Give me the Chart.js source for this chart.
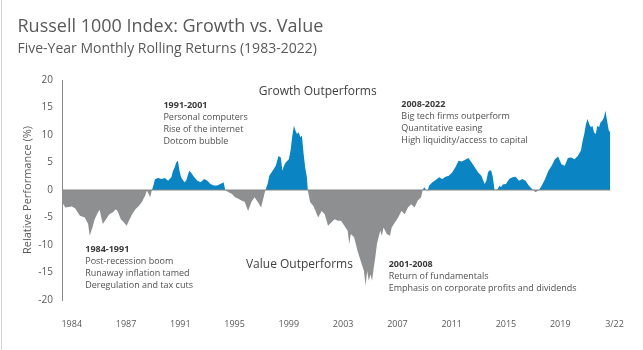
<!DOCTYPE html>
<html>
<head>
<meta charset="utf-8">
<script src="https://cdn.jsdelivr.net/npm/chart.js@4.4.1/dist/chart.umd.min.js"></script>
<style>
  html, body { margin: 0; padding: 0; background: #ffffff; }
  #wrap { position: relative; width: 643px; height: 350px; overflow: hidden; font-family: "Open Sans", sans-serif; }
  #c { position: absolute; left: 0; top: 0; }
  #edge { position: absolute; left: 1px; top: 0; width: 1px; height: 350px; background: #d6d6d6; }
  .t1 { position: absolute; left: 17.5px; top: 15.7px; font-size: 18px; line-height: 18px; color: #595959; white-space: nowrap; }
  .t2 { position: absolute; left: 17.5px; top: 40.5px; font-size: 14px; line-height: 14px; color: #595959; white-space: nowrap; }
</style>
</head>
<body>
<div id="wrap">
  <canvas id="c" width="643" height="350"></canvas>
  <div id="edge"></div>
  <div class="t1">Russell 1000 Index: Growth vs. Value</div>
  <div class="t2">Five-Year Monthly Rolling Returns (1983-2022)</div>
</div>
<script>
// ---- data (decimal year, relative performance %) ----
const dates = [
  1983.92,1984.15,1984.60,1984.83,1985.17,1985.51,1985.74,1985.85,1986.04,1986.20,
  1986.42,1986.54,1986.76,1986.99,1987.22,1987.45,1987.67,1987.79,1988.02,1988.24,
  1988.43,1988.58,1988.81,1989.04,1989.27,1989.49,1989.72,1989.84,1989.95,1990.06,
  1990.18,1990.29,1990.40,1990.63,1990.86,1991.09,1991.31,1991.54,1991.66,1991.77,
  1991.88,1992.00,1992.11,1992.22,1992.45,1992.57,1992.79,1992.91,1993.14,1993.36,
  1993.59,1993.82,1994.05,1994.27,1994.50,1994.73,1994.96,1995.18,1995.30,1995.52,
  1995.75,1995.98,1996.21,1996.43,1996.66,1996.89,1997.12,1997.34,1997.57,1997.80,
  1998.03,1998.10,1998.25,1998.37,1998.60,1998.82,1999.01,1999.17,1999.28,1999.39,
  1999.51,1999.73,1999.85,1999.96,2000.08,2000.19,2000.30,2000.42,2000.53,2000.64,
  2000.76,2000.87,2000.99,2001.05,2001.21,2001.44,2001.78,2002.01,2002.23,2002.46,
  2002.69,2002.92,2003.14,2003.37,2003.60,2003.83,2003.94,2004.05,2004.28,2004.51,
  2004.74,2004.96,2005.08,2005.19,2005.30,2005.42,2005.53,2005.65,2005.76,2005.87,
  2006.10,2006.21,2006.33,2006.56,2006.78,2006.90,2007.12,2007.35,2007.58,2007.81,
  2008.03,2008.26,2008.49,2008.72,2008.95,2009.06,2009.17,2009.29,2009.40,2009.51,
  2009.74,2009.97,2010.20,2010.42,2010.65,2010.88,2011.11,2011.33,2011.56,2011.79,
  2012.02,2012.24,2012.47,2012.70,2012.93,2013.15,2013.38,2013.50,2013.61,2013.72,
  2013.84,2013.95,2014.06,2014.18,2014.29,2014.41,2014.52,2014.63,2014.86,2015.09,
  2015.32,2015.54,2015.77,2016.00,2016.23,2016.45,2016.68,2016.91,2017.14,2017.36,
  2017.59,2017.82,2018.05,2018.27,2018.50,2018.73,2018.96,2019.18,2019.41,2019.64,
  2019.87,2020.09,2020.21,2020.32,2020.44,2020.55,2020.66,2020.78,2020.89,2021.00,
  2021.12,2021.23,2021.35,2021.46,2021.57,2021.69,2021.80,2021.91,2022.03,2022.14
];
const relPerf = [
  -2.2,-3.2,-3.0,-3.3,-4.7,-5.0,-6.2,-8.3,-6.8,-5.3,
  -4.1,-3.6,-6.2,-5.3,-4.4,-4.1,-3.5,-3.8,-5.3,-5.9,
  -6.5,-5.6,-4.4,-3.5,-2.9,-2.2,-1.0,-0.1,-0.7,-1.3,
  -0.1,0.8,2.0,2.2,2.0,2.2,1.7,2.3,3.5,4.1,
  5.0,5.3,3.5,2.3,1.4,1.7,3.5,3.2,2.3,1.7,
  1.4,2.0,1.7,1.1,0.8,0.8,1.1,1.4,0.0,-0.4,
  -0.7,-1.3,-1.6,-1.9,-2.2,-3.8,-2.2,-1.3,-2.2,-3.2,
  -0.7,0.0,1.1,2.6,3.5,4.4,6.2,5.9,3.5,4.4,
  5.0,5.6,7.2,9.6,11.7,10.8,10.2,10.5,9.6,9.9,
  6.6,4.1,2.3,0.0,-2.2,-2.9,-5.0,-3.8,-4.4,-6.5,
  -5.9,-5.3,-5.6,-5.6,-6.5,-7.4,-9.8,-8.0,-8.6,-11.0,
  -12.9,-14.7,-17.4,-14.7,-16.5,-15.3,-16.5,-14.1,-12.2,-9.8,
  -7.4,-8.3,-6.8,-8.0,-8.3,-6.8,-5.9,-5.0,-3.8,-4.4,
  -3.2,-2.6,-3.2,-1.9,-1.3,0.0,0.5,0.0,-0.2,0.8,
  1.4,1.8,2.3,2.0,2.4,2.6,3.2,4.1,5.3,5.2,
  5.5,5.8,5.0,4.1,3.2,2.6,1.1,1.7,3.2,3.6,
  3.5,2.3,0.1,0.0,0.2,0.8,0.5,1.0,1.1,2.0,
  2.3,2.4,1.7,2.0,1.7,0.8,0.2,-0.4,-0.1,0.8,
  2.0,3.5,4.4,5.6,6.1,4.7,4.4,5.8,5.9,5.6,
  6.2,7.2,9.0,10.2,12.0,12.9,12.0,11.4,11.7,10.5,
  10.2,11.7,11.4,12.3,12.6,13.2,14.4,12.6,10.8,10.5
];
const xTickLabels = ['1984','1987','1991','1995','1999','2003','2007','2011','2015','2019','3/22'];
const annotations = [
  { x: 1997.64, y: 17.9,  size: 12, lines: ['Growth Outperforms'], head: false },
  { x: 1996.74, y: -13.6, size: 12, lines: ['Value Outperforms'], head: false },
  { x: 1990.99, y: 15.45, size: 9, lines: ['1991-2001','Personal computers','Rise of the internet','Dotcom bubble'], head: true },
  { x: 1985.54, y: -10.73, size: 9, lines: ['1984-1991','Post-recession boom','Runaway inflation tamed','Deregulation and tax cuts'], head: true },
  { x: 2007.57, y: 15.58, size: 9, lines: ['2008-2022','Big tech firms outperform','Quantitative easing','High liquidity/access to capital'], head: true },
  { x: 2006.69, y: -13.45, size: 9, lines: ['2001-2008','Return of fundamentals','Emphasis on corporate profits and dividends'], head: true }
];

// ---- layout / style ----
const BLUE = '#0b84c3';
const GREY = '#8e8f91';
const TXT = '#595959';
const X_MIN = 1983.92, X_MAX = 2022.84;
const FIRST_TICK = 1984.60, LAST_TICK = 2022.43;

const points = dates.map((d, i) => ({ x: d, y: relPerf[i] }));
const zeroLine = [{ x: dates[0], y: 0 }, { x: dates[dates.length - 1], y: 0 }];

const annotationPlugin = {
  id: 'annot',
  afterDatasetsDraw(chart) {
    const { ctx, scales } = chart;
    ctx.save();
    ctx.textAlign = 'left';
    ctx.textBaseline = 'middle';
    annotations.forEach(a => {
      const px = scales.x.getPixelForValue(a.x);
      const py = scales.y.getPixelForValue(a.y);
      a.lines.forEach((t, i) => {
        const bold = a.head && i === 0;
        ctx.font = (bold ? '700 ' : '400 ') + a.size + 'px "Open Sans"';
        ctx.fillStyle = bold ? '#3a3a3a' : (a.head ? '#505050' : '#404040');
        ctx.fillText(t, px, py + i * 12);
      });
    });
    ctx.restore();
  }
};

new Chart(document.getElementById('c'), {
  type: 'line',
  data: {
    datasets: [
      {
        data: zeroLine,
        borderColor: '#858585',
        borderWidth: 1,
        pointRadius: 0,
        fill: false,
        order: 0
      },
      {
        data: points,
        borderWidth: 0,
        borderColor: 'rgba(0,0,0,0)',
        pointRadius: 0,
        tension: 0,
        fill: { target: { value: 0 }, above: BLUE, below: GREY },
        order: 1
      }
    ]
  },
  options: {
    responsive: false,
    animation: false,
    devicePixelRatio: 1,
    layout: { padding: { top: 80, right: 10, bottom: 0, left: 0 } },
    plugins: { legend: { display: false }, tooltip: { enabled: false }, title: { display: false } },
    scales: {
      x: {
        type: 'linear',
        min: X_MIN,
        max: X_MAX,
        grid: { display: false, drawTicks: false },
        border: { display: false },
        afterBuildTicks(scale) {
          const n = xTickLabels.length;
          const step = (LAST_TICK - FIRST_TICK) / (n - 1);
          scale.ticks = xTickLabels.map((_, i) => ({ value: FIRST_TICK + i * step }));
        },
        afterFit(scale) { scale.height = 50; },
        ticks: {
          autoSkip: false,
          maxRotation: 0,
          padding: 19,
          color: TXT,
          font: { family: 'Open Sans', size: 9 },
          callback: (v, i) => xTickLabels[i]
        }
      },
      y: {
        min: -20,
        max: 20,
        grid: { display: false, drawTicks: false },
        border: { display: true, color: '#8a8a8a', width: 1 },
        afterFit(scale) { scale.width = 62; },
        ticks: {
          stepSize: 5,
          padding: 9,
          color: TXT,
          font: { family: 'Open Sans', size: 10 }
        },
        title: {
          display: true,
          text: 'Relative Performance (%)',
          color: TXT,
          font: { family: 'Open Sans', size: 11 },
          padding: { top: 21, bottom: 0 }
        }
      }
    }
  },
  plugins: [annotationPlugin]
});
</script>
</body>
</html>
